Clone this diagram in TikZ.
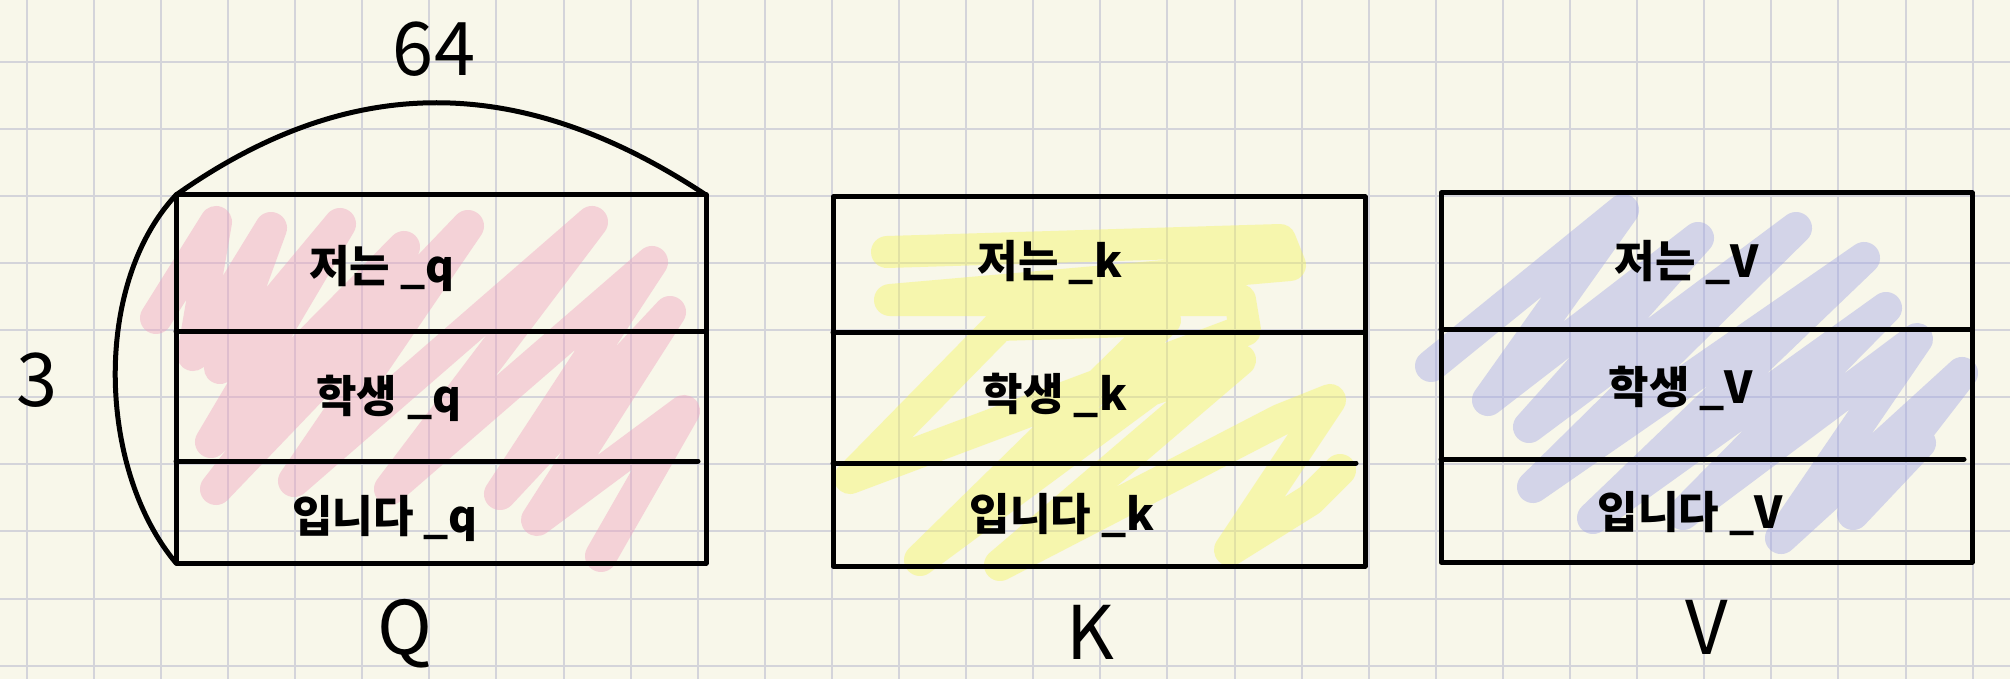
\documentclass[tikz,border=0pt]{standalone}
\usepackage{fontspec}
\newfontfamily\kr{Noto Sans CJK KR}
\definecolor{bgc}{RGB}{248,247,234}
\definecolor{gridc}{RGB}{212,212,218}
\definecolor{pinkc}{RGB}{240,160,190}
\definecolor{yellc}{RGB}{245,245,90}
\definecolor{bluec}{RGB}{160,165,230}
\begin{document}
\begin{tikzpicture}[x=1pt,y=-1pt,
  gridline/.style={draw=gridc, line width=2pt},
  ink/.style={draw=black, line width=5pt, line cap=round, line join=round},
  scrib/.style={line width=32pt, line cap=round, line join=round, draw opacity=0.42},
  rowtext/.style={font=\kr\bfseries\fontsize{44}{52}\selectfont, inner sep=0pt},
  biglabel/.style={font=\kr\fontsize{74}{88}\selectfont, inner sep=0pt}]
\useasboundingbox (0,0) rectangle (2010,679);
\fill[bgc] (0,0) rectangle (2010,679);
% grid
\foreach \i in {0,...,29} \draw[gridline] ({26.7+67.1*\i},0) -- ++(0,679);
\foreach \j in {0,...,9} \draw[gridline] (0,{61.7+67.1*\j}) -- ++(2010,0);
% scribbles
\draw[scrib, pinkc] (156,318) -- (216,222) -- (193,355) -- (271,228) -- (220,368) -- (340,224) -- (211,442) -- (404,247) -- (216,489) -- (468,226) -- (294,481) -- (592,222) -- (390,489) -- (652,262) -- (500,494) -- (670,312) -- (537,520) -- (684,411) -- (601,556);
\draw[scrib, yellc] (887,252) -- (1280,240) -- (1290,265) -- (890,300) -- (1240,300) -- (1245,330) -- (850,478) -- (1000,325) -- (1165,320) -- (920,560) -- (1150,390) -- (1240,360) -- (1000,565) -- (1280,420) -- (1330,400) -- (1230,550) -- (1310,500) -- (1340,470);
\draw[scrib, bluec] (1431,366) -- (1623,210) -- (1488,400) -- (1698,238) -- (1529,427) -- (1796,228) -- (1533,487) -- (1864,258) -- (1593,518) -- (1886,308) -- (1683,514) -- (1917,339) -- (1781,538) -- (1962,373) -- (1853,514) -- (1920,443);
% Q box
\coordinate (qtl) at (176,195);
\coordinate (qtr) at (706,195);
\coordinate (qbl) at (176,563);
\draw[ink] (qtl) rectangle (706,563);
\draw[ink] (176,331) -- (706,331);
\draw[ink] (176,461) -- (698,461);
\draw[ink] (qtl) .. controls (350,72) and (520,72) .. (qtr);
\draw[ink] (qtl) .. controls (92,285) and (98,470) .. (qbl);
% K box
\draw[ink] (833,197) rectangle (1365,566);
\draw[ink] (833,332) -- (1365,332);
\draw[ink] (833,463) -- (1356,463);
% V box
\draw[ink] (1441,193) rectangle (1972,562);
\draw[ink] (1441,329) -- (1972,329);
\draw[ink] (1441,459) -- (1964,459);
% texts
\node[rowtext] (q1) at (382,268) {저는 \_q};
\node[rowtext] (q2) at (389,398) {학생 \_q};
\node[rowtext] (q3) at (385,518) {입니다 \_q};
\node[rowtext] (k1) at (1050,262) {저는 \_k};
\node[rowtext] (k2) at (1055,395) {학생 \_k};
\node[rowtext] (k3) at (1062,515) {입니다 \_k};
\node[rowtext] (v1) at (1687,262) {저는 \_V};
\node[rowtext] (v2) at (1681,388) {학생 \_V};
\node[rowtext] (v3) at (1690,513) {입니다 \_V};
\node[biglabel] (lab64) at (434,49) {64};
\node[biglabel] (lab3) at (37,380) {3};
\node[biglabel] (labQ) at (405,634) {Q};
\node[biglabel] (labK) at (1090,632) {K};
\node[biglabel] (labV) at (1707,627) {V};
\end{tikzpicture}
\end{document}
